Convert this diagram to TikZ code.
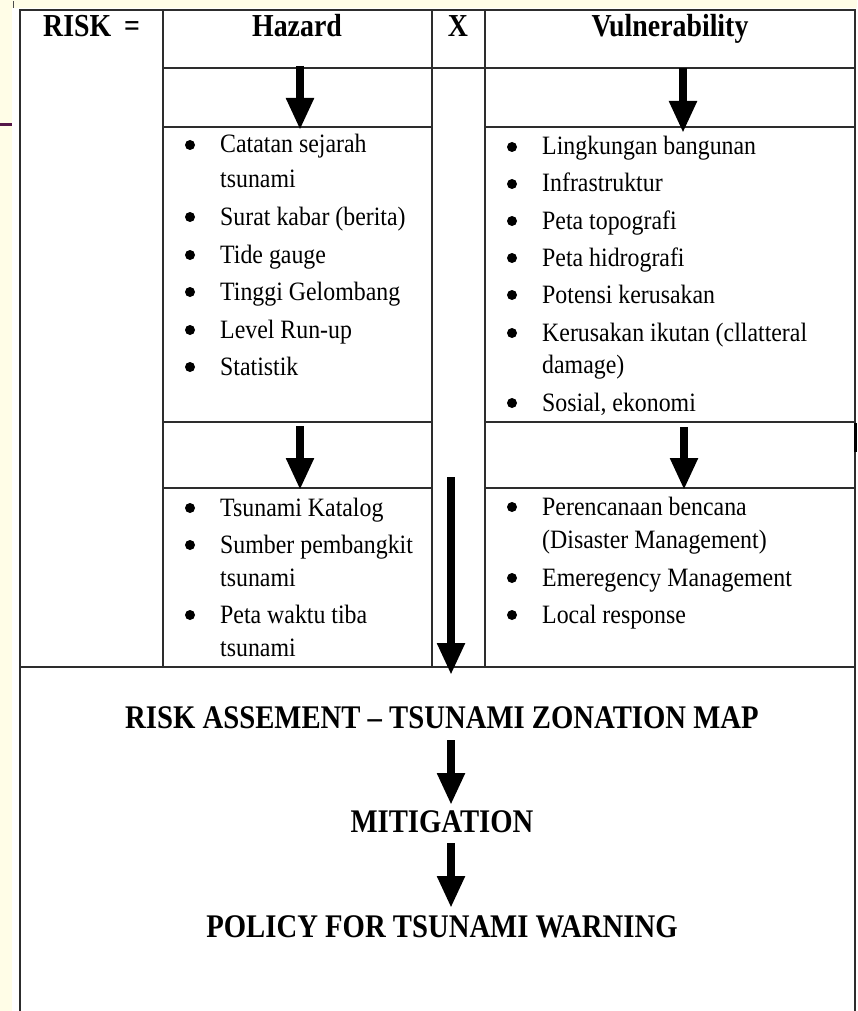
\documentclass[tikz,border=0pt]{standalone}
\usepackage{fontspec}
\setmainfont{Liberation Serif}
\newfontfamily\bodyf[FakeStretch=0.9]{Liberation Serif}
\newfontfamily\headf[FakeStretch=0.87]{Liberation Serif}
\usetikzlibrary{arrows.meta}
\definecolor{slideyellow}{RGB}{255,253,231}
\definecolor{slidepurple}{RGB}{84,22,72}
\definecolor{gridgray}{RGB}{45,45,45}
\newcommand\mkcell[5]{\node[cellbox,minimum width={(#4-#2)*1pt},minimum height={(#5-#3)*1pt}] (#1) at ({(#2+#4)/2},{(#3+#5)/2}) {};}
\begin{document}
\begin{tikzpicture}[x=1pt,y=-1pt,
 cellbox/.style={draw=gridgray,line width=1.5pt,inner sep=0pt,outer sep=0pt,rectangle},
 headtxt/.style={font=\headf\bfseries\fontsize{32}{38}\selectfont,inner sep=0pt,anchor=base},
 bodytxt/.style={font=\bodyf\fontsize{26.5}{32}\selectfont,inner sep=0pt,anchor=base west},
 bottxt/.style={font=\headf\bfseries\fontsize{33}{40}\selectfont,inner sep=0pt,anchor=base},
 bul/.style={circle,fill=black,inner sep=0pt,minimum size=10pt},
 bigarrow/.style={line width=8pt,-{Triangle[length=32pt,width=26pt]}}]
\useasboundingbox (0,0) rectangle (857,1011);
% slide background
\fill[slideyellow] (0,0) rectangle (857,1011);
\fill[white] (12,8) rectangle (857,1011);
\draw[slidepurple,line width=3pt] (0,125) -- (12,125);
\draw[black!70,line width=1pt] (13,1) -- (13,8);
% table cells
\mkcell{risk}{20}{10}{163}{667}
\mkcell{hzH}{163}{10}{432}{68}
\mkcell{xH}{432}{10}{485}{68}
\mkcell{vH}{485}{10}{855}{68}
\mkcell{hzA1}{163}{68}{432}{127}
\mkcell{hzL1}{163}{127}{432}{422}
\mkcell{hzA2}{163}{422}{432}{488}
\mkcell{hzL2}{163}{488}{432}{667}
\mkcell{xC}{432}{68}{485}{667}
\mkcell{vA1}{485}{68}{855}{127}
\mkcell{vL1}{485}{127}{855}{422}
\mkcell{vA2}{485}{422}{855}{488}
\mkcell{vL2}{485}{488}{855}{667}
\draw[gridgray,line width=1.5pt] (20,1011) -- (20,667) -- (855,667) -- (855,1011);
\draw[gridgray,line width=2.8pt] (20,667) -- (855,667);
\fill[black] (854,423) rectangle (857,452);
% headers
\node[headtxt,anchor=base west] (hrisk) at (43,37) {RISK\hspace{13pt}=};
\node[headtxt] (hhaz) at (297,37) {Hazard};
\node[headtxt] (hx) at (458,37) {X};
\node[headtxt] (hvul) at (670,37) {Vulnerability};
% hazard list 1
\node[bul] (hb1) at (190,145) {};
\node[bodytxt] (ht1) at (220,153) {Catatan sejarah};
\node[bodytxt] (ht1b) at (220,187) {tsunami};
\node[bul] (hb2) at (190,217) {};
\node[bodytxt] (ht2) at (220,225) {Surat kabar (berita)};
\node[bul] (hb3) at (190,255) {};
\node[bodytxt] (ht3) at (220,263) {Tide gauge};
\node[bul] (hb4) at (190,292) {};
\node[bodytxt] (ht4) at (220,300) {Tinggi Gelombang};
\node[bul] (hb5) at (190,330) {};
\node[bodytxt] (ht5) at (220,338) {Level Run-up};
\node[bul] (hb6) at (190,367) {};
\node[bodytxt] (ht6) at (220,375) {Statistik};
% vulnerability list 1
\node[bul] (vb1) at (512,147) {};
\node[bodytxt] (vt1) at (542,155) {Lingkungan bangunan};
\node[bul] (vb2) at (512,184) {};
\node[bodytxt] (vt2) at (542,192) {Infrastruktur};
\node[bul] (vb3) at (512,221) {};
\node[bodytxt] (vt3) at (542,229) {Peta topografi};
\node[bul] (vb4) at (512,258) {};
\node[bodytxt] (vt4) at (542,266) {Peta hidrografi};
\node[bul] (vb5) at (512,295) {};
\node[bodytxt] (vt5) at (542,303) {Potensi kerusakan};
\node[bul] (vb6) at (512,333) {};
\node[bodytxt] (vt6) at (542,341) {Kerusakan ikutan (cllatteral};
\node[bodytxt] (vt6b) at (542,373) {damage)};
\node[bul] (vb7) at (512,403) {};
\node[bodytxt] (vt7) at (542,411) {Sosial, ekonomi};
% hazard list 2
\node[bul] (hc1) at (190,508) {};
\node[bodytxt] (hs1) at (220,516) {Tsunami Katalog};
\node[bul] (hc2) at (190,545) {};
\node[bodytxt] (hs2) at (220,553) {Sumber pembangkit};
\node[bodytxt] (hs2b) at (220,586) {tsunami};
\node[bul] (hc3) at (190,615) {};
\node[bodytxt] (hs3) at (220,623) {Peta waktu tiba};
\node[bodytxt] (hs3b) at (220,656) {tsunami};
% vulnerability list 2
\node[bul] (vc1) at (512,507) {};
\node[bodytxt] (vs1) at (542,515) {Perencanaan bencana};
\node[bodytxt] (vs1b) at (542,548) {(Disaster Management)};
\node[bul] (vc2) at (512,578) {};
\node[bodytxt] (vs2) at (542,586) {Emeregency Management};
\node[bul] (vc3) at (512,615) {};
\node[bodytxt] (vs3) at (542,623) {Local response};
% bottom texts
\node[bottxt] (rasm) at (442,728) {RISK ASSEMENT – TSUNAMI ZONATION MAP};
\node[bottxt] (mitg) at (442,832) {MITIGATION};
\node[bottxt] (polc) at (442,937) {POLICY FOR TSUNAMI WARNING};
% arrow end points
\coordinate (h1s) at (300,66);  \coordinate (h1e) at (300,130);
\coordinate (v1s) at (683,68);  \coordinate (v1e) at (683,133);
\coordinate (h2s) at (300,426); \coordinate (h2e) at (300,490);
\coordinate (v2s) at (684,427); \coordinate (v2e) at (684,490);
\coordinate (xs) at (451,477);  \coordinate (xe) at (451,675);
\coordinate (b1s) at (451,740); \coordinate (b1e) at (451,805);
\coordinate (b2s) at (451,843); \coordinate (b2e) at (451,908);
\draw[bigarrow] (h1s) -- (h1e);
\draw[bigarrow] (v1s) -- (v1e);
\draw[bigarrow] (h2s) -- (h2e);
\draw[bigarrow] (v2s) -- (v2e);
\draw[bigarrow] (xs) -- (xe);
\draw[bigarrow] (b1s) -- (b1e);
\draw[bigarrow] (b2s) -- (b2e);
\end{tikzpicture}
\end{document}
